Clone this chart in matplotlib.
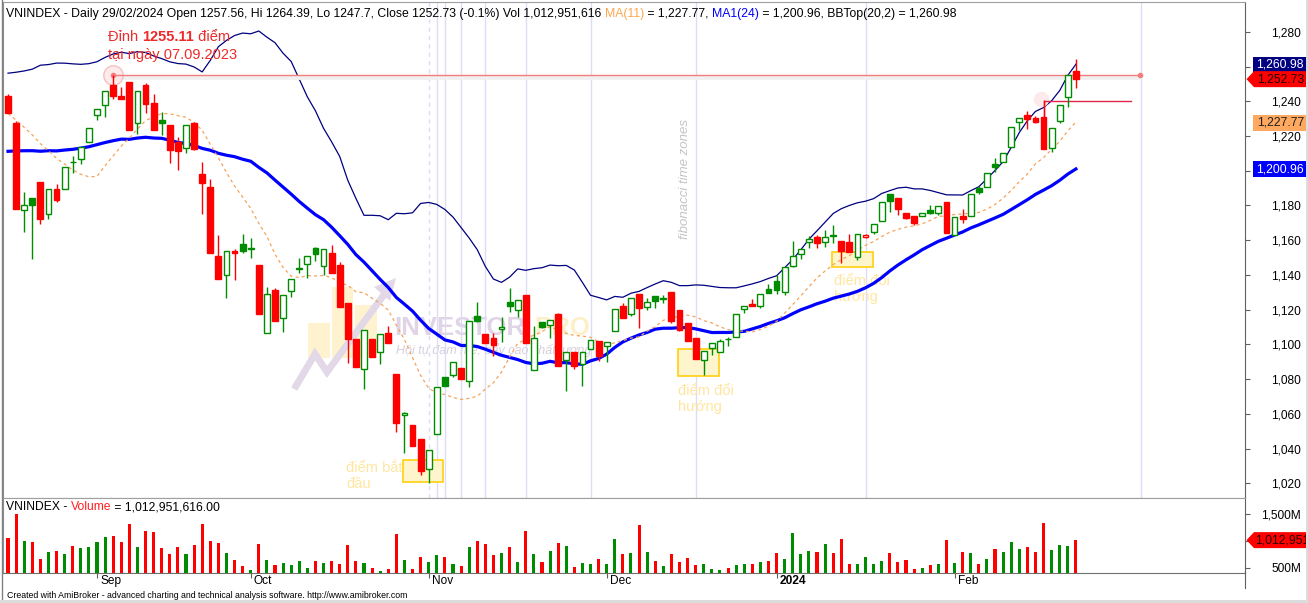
import numpy as np
import pandas as pd
import matplotlib
matplotlib.use("Agg")
import matplotlib.pyplot as plt
from matplotlib.patches import Polygon, Rectangle
from matplotlib.lines import Line2D

plt.rcParams['font.family'] = ['Liberation Sans', 'DejaVu Sans']

# closes before the first visible bar (Jul 17 - Aug 16 2023), only to warm up the indicators
warmup_close = [1172, 1178, 1180, 1180, 1182, 1186, 1190, 1195, 1197, 1205, 1207, 1216,
                1218, 1220, 1226, 1228, 1228, 1234, 1232, 1238, 1242, 1241, 1240]

# daily VNINDEX bars, 17/08/2023 .. 29/02/2024
opens = [1243.0, 1227.7, 1177.2, 1184.3, 1193.5, 1175.3, 1189.5, 1189.3, 1205.1, 1206.6,
         1216.4, 1231.9, 1237.7, 1249.5, 1243.0, 1251.1, 1227.3, 1249.2, 1239.0, 1229.2,
         1226.3, 1216.5, 1212.9, 1227.5, 1198.1, 1190.6, 1150.9, 1139.8, 1153.8, 1157.7,
         1155.2, 1145.7, 1106.4, 1131.4, 1115.1, 1130.6, 1143.5, 1146.2, 1155.3, 1145.2,
         1152.5, 1145.7, 1124.0, 1103.1, 1085.7, 1103.0, 1095.5, 1106.4, 1083.0, 1059.2,
         1053.6, 1045.6, 1028.5, 1048.3, 1081.1, 1082.2, 1086.4, 1078.8, 1116.4, 1105.9,
         1103.9, 1108.7, 1124.6, 1119.7, 1128.5, 1085.1, 1112.7, 1111.0, 1117.5, 1090.9,
         1095.7, 1088.6, 1097.2, 1102.0, 1098.9, 1107.6, 1122.1, 1117.5, 1129.2, 1121.7,
         1127.9, 1126.3, 1130.2, 1119.8, 1112.2, 1103.7, 1090.9, 1098.0, 1095.8, 1103.3,
         1104.1, 1120.2, 1123.3, 1122.3, 1131.7, 1136.5, 1130.4, 1145.3, 1152.2, 1159.2,
         1162.0, 1159.0, 1162.9, 1159.4, 1159.0, 1150.2, 1162.0, 1164.6, 1171.2, 1186.4,
         1184.3, 1175.5, 1173.8, 1173.8, 1177.4, 1175.9, 1182.0, 1162.8, 1173.9, 1174.1,
         1189.9, 1190.5, 1203.7, 1204.9, 1213.5, 1228.1, 1231.9, 1230.2, 1230.8, 1212.9,
         1228.8, 1242.3, 1257.56]
highs = [1244.2, 1228.6, 1187.8, 1184.5, 1193.5, 1189.3, 1192.4, 1202.0, 1208.5, 1213.5,
         1224.4, 1235.4, 1245.7, 1255.11, 1248.0, 1251.1, 1245.7, 1250.3, 1244.2, 1233.8,
         1226.3, 1219.3, 1226.2, 1228.2, 1205.2, 1195.3, 1163.0, 1153.6, 1155.0, 1163.6,
         1161.3, 1146.0, 1133.1, 1132.5, 1128.3, 1137.5, 1149.6, 1150.7, 1156.3, 1154.8,
         1157.3, 1147.3, 1124.0, 1103.1, 1108.1, 1103.0, 1105.9, 1110.6, 1083.0, 1060.9,
         1053.6, 1045.6, 1039.1, 1075.3, 1081.1, 1089.7, 1086.4, 1113.3, 1124.6, 1105.9,
         1106.4, 1116.0, 1132.3, 1125.4, 1128.5, 1110.6, 1113.0, 1113.9, 1118.1, 1095.5,
         1095.7, 1095.5, 1102.6, 1102.0, 1101.6, 1120.2, 1124.0, 1126.6, 1129.2, 1126.6,
         1127.9, 1128.5, 1130.2, 1119.8, 1112.2, 1103.7, 1096.1, 1100.7, 1103.0, 1104.1,
         1117.4, 1122.4, 1126.2, 1128.9, 1134.8, 1140.0, 1144.6, 1159.6, 1154.8, 1162.6,
         1163.0, 1165.9, 1168.8, 1159.4, 1163.6, 1163.4, 1163.4, 1169.2, 1182.0, 1186.4,
         1184.3, 1175.5, 1173.8, 1175.5, 1180.3, 1179.7, 1182.0, 1173.4, 1178.0, 1186.4,
         1191.2, 1198.5, 1207.2, 1210.0, 1225.0, 1230.2, 1234.4, 1231.5, 1240.7, 1224.4,
         1237.7, 1255.1, 1264.39]
lows = [1233.0, 1178.0, 1164.9, 1149.4, 1169.5, 1172.1, 1182.2, 1189.3, 1198.5, 1204.1,
        1216.4, 1229.4, 1230.8, 1241.5, 1241.1, 1223.6, 1221.3, 1233.4, 1223.6, 1220.6,
        1204.6, 1200.4, 1210.0, 1212.0, 1175.3, 1152.8, 1137.9, 1126.9, 1137.1, 1152.8,
        1149.9, 1117.7, 1106.4, 1113.7, 1107.4, 1127.5, 1141.3, 1138.4, 1148.2, 1139.8,
        1141.3, 1121.4, 1089.1, 1087.2, 1074.2, 1093.0, 1088.6, 1101.0, 1049.8, 1037.7,
        1041.7, 1024.9, 1020.2, 1048.3, 1076.3, 1081.1, 1079.9, 1075.7, 1112.8, 1101.0,
        1093.4, 1101.6, 1118.9, 1115.6, 1101.0, 1085.1, 1109.5, 1103.5, 1087.8, 1073.4,
        1086.0, 1076.3, 1097.2, 1090.6, 1090.1, 1107.6, 1115.4, 1116.4, 1109.6, 1119.8,
        1120.8, 1123.7, 1112.5, 1107.7, 1102.2, 1091.5, 1082.4, 1093.8, 1095.8, 1099.3,
        1104.1, 1118.3, 1122.1, 1120.8, 1129.8, 1129.0, 1128.5, 1144.6, 1149.2, 1155.7,
        1155.7, 1156.3, 1158.2, 1147.1, 1153.5, 1148.4, 1161.5, 1163.4, 1171.2, 1176.1,
        1174.3, 1172.4, 1168.8, 1173.8, 1175.1, 1174.5, 1164.2, 1162.8, 1170.1, 1174.1,
        1186.4, 1190.5, 1199.5, 1204.9, 1213.5, 1223.5, 1223.9, 1227.3, 1212.3, 1211.0,
        1227.3, 1236.9, 1247.7]
closes = [1233.4, 1178.2, 1180.1, 1180.5, 1172.4, 1189.3, 1183.3, 1202.0, 1204.9, 1213.5,
          1224.4, 1235.4, 1245.7, 1243.2, 1241.5, 1223.6, 1245.7, 1238.6, 1223.6, 1227.7,
          1212.0, 1211.5, 1226.2, 1212.5, 1193.1, 1152.8, 1137.9, 1153.6, 1152.5, 1154.0,
          1155.4, 1117.7, 1128.9, 1113.7, 1128.3, 1137.5, 1143.7, 1150.7, 1151.9, 1154.8,
          1141.3, 1121.4, 1103.0, 1087.2, 1108.1, 1093.0, 1105.9, 1101.0, 1055.0, 1060.5,
          1041.7, 1027.3, 1039.1, 1075.3, 1076.3, 1089.7, 1079.9, 1113.3, 1113.7, 1101.0,
          1099.9, 1110.1, 1122.3, 1125.4, 1101.0, 1103.5, 1110.2, 1113.9, 1087.8, 1095.5,
          1087.8, 1095.5, 1102.6, 1093.5, 1101.6, 1120.2, 1115.4, 1126.6, 1121.2, 1124.3,
          1125.2, 1126.4, 1113.7, 1108.3, 1102.2, 1091.5, 1096.1, 1100.7, 1102.2, 1103.1,
          1117.4, 1122.4, 1122.1, 1128.9, 1129.8, 1131.3, 1144.6, 1150.9, 1154.8, 1160.5,
          1158.6, 1161.7, 1162.7, 1154.0, 1153.5, 1163.4, 1163.0, 1169.2, 1182.0, 1182.8,
          1177.8, 1172.8, 1170.1, 1175.5, 1175.7, 1179.7, 1164.2, 1173.4, 1172.4, 1186.4,
          1188.0, 1198.5, 1202.3, 1210.0, 1225.0, 1230.2, 1230.0, 1227.9, 1212.3, 1224.4,
          1237.7, 1255.1, 1252.73]
# volume in millions of shares
volumes = [1059, 1500, 1003, 979, 662, 792, 811, 761, 910, 873,
           891, 985, 1078, 1097, 985, 1320, 891, 1189, 1171, 873,
           761, 891, 761, 928, 1320, 1003, 966, 780, 649, 537,
           463, 947, 649, 556, 593, 556, 630, 500, 630, 593,
           625, 569, 923, 625, 588, 494, 439, 476, 1128, 644,
           476, 700, 606, 737, 700, 569, 532, 886, 998, 942,
           737, 774, 886, 606, 1184, 755, 606, 811, 960, 904,
           513, 588, 569, 662, 569, 1035, 755, 774, 1295, 792,
           625, 532, 755, 606, 680, 550, 569, 476, 457, 494,
           550, 569, 569, 606, 625, 774, 662, 1146, 755, 811,
           792, 942, 774, 1035, 569, 569, 700, 569, 625, 774,
           606, 643, 476, 494, 550, 569, 1016, 588, 792, 774,
           569, 662, 848, 792, 979, 848, 886, 792, 1333, 830,
           923, 904, 1012.95]

month_ticks = [11, 30, 52, 74, 95, 117]
month_labels = ['Sep', 'Oct', 'Nov', 'Dec', '2024', 'Feb']
price_ticks = list(range(1020, 1281, 20))
hidden_price_labels = [1200, 1260]   # sit under the value tags
vol_ticks = [500, 1000, 1500]
vol_labels = ['500M', '', '1,500M']
fib_start = 52
fib_offsets = [0, 1, 2, 4, 7, 12, 20, 33, 54, 88]
peak_bar = 13          # 07.09.2023, high 1255.11
swing_bar = 128

GREEN = '#008c00'
RED = '#ff0000'
W, H = 1308, 603

fig = plt.figure(figsize=(W / 100, H / 100), dpi=100)
fig.patch.set_facecolor('white')
ax = fig.add_axes([3 / W, 1 - 497.5 / H, 1242 / W, 495.5 / H])
axv = fig.add_axes([3 / W, 1 - 572.5 / H, 1242 / W, 75 / H])

o, h, l, c = (np.array(a, dtype=float) for a in (opens, highs, lows, closes))
v = np.array(volumes, dtype=float)
idx = np.arange(len(c))

allc = pd.Series(warmup_close + closes, dtype=float)
nw = len(warmup_close)
ma11 = allc.rolling(11).mean().values[nw:]
ma24 = allc.rolling(24).mean().values[nw:]
bbtop = (allc.rolling(20).mean() + 2 * allc.rolling(20).std(ddof=0)).values[nw:]

ax.set_xlim(-0.62, 152.9)
ax.set_ylim(1011.9, 1297.15)
axv.set_xlim(-0.62, 152.9)
axv.set_ylim(410, 1807)


def px(a, x, y):
    # reference pixel -> data coordinates of axes a
    return a.transData.inverted().transform((x, H - y))


# --- watermark ---
for (x0, y0, x1, y1) in [(308, 323, 330, 358), (332, 287, 353, 358), (355, 305, 377, 358)]:
    d0 = px(ax, x0, y1)
    d1 = px(ax, x1, y0)
    ax.add_patch(Rectangle(d0, d1[0] - d0[0], d1[1] - d0[1], facecolor='#fff3cf',
                           edgecolor='none', zorder=0.5))
zz = np.array([px(ax, *p) for p in [(296, 386), (315, 354), (327, 372), (386, 292)]])
ax.plot(zz[:, 0], zz[:, 1], color='#e2d8e8', lw=5, solid_joinstyle='miter', zorder=0.6)
ah = np.array([px(ax, *p) for p in [(374, 287), (396, 278), (390, 301)]])
ax.add_patch(Polygon(ah, closed=True, facecolor='#e2d8e8', edgecolor='none', zorder=0.6))
p = px(ax, 394, 328)
ax.text(p[0], p[1], 'INVESTOR', color='#e0d4e6', fontsize=18.5, fontweight='bold',
        va='center', ha='left', zorder=0.6)
p = px(ax, 534, 328)
ax.text(p[0], p[1], 'PRO', color='#fdf0c8', fontsize=18.5, fontweight='bold',
        va='center', ha='left', zorder=0.6)
p = px(ax, 396, 350)
ax.text(p[0], p[1], 'Hội tụ đam mê, bẩy cao chất lượng', color='#d6cfdc', fontsize=9,
        style='italic', va='center', ha='left', zorder=0.6)

# --- fibonacci time zones ---
for off in fib_offsets:
    ax.axvline(fib_start + off, color='#dcdcf6', lw=1.0,
               ls=(0, (3, 3)) if off == 0 else '-', zorder=1)
p = px(ax, 685, 179)
ax.text(p[0], p[1], 'fibonacci time zones', rotation=90, color='#c4c4c4', fontsize=9.5,
        style='italic', ha='center', va='center', zorder=1)

# --- turning point boxes ---
boxes = [((403, 460, 443, 482), (346, 476), 'điểm bắt\nđầu'),
         ((678, 349, 719, 376), (678, 399), 'điểm đổi\nhướng'),
         ((832, 252, 873, 267), (834, 289), 'điểm đổi\nhướng')]
for (x0, y0, x1, y1), (tx, ty), s in boxes:
    d0 = px(ax, x0, y1)
    d1 = px(ax, x1, y0)
    ax.add_patch(Rectangle(d0, d1[0] - d0[0], d1[1] - d0[1], facecolor='#fff5cc',
                           edgecolor='#ffd21f', lw=1.3, zorder=2))
    p = px(ax, tx, ty)
    ax.text(p[0], p[1], s, color='#ffe6a0', fontsize=10.5, ha='left', va='center',
            linespacing=1.25, zorder=2)

# --- indicator lines ---
ax.plot(idx, bbtop, color='#000080', lw=0.9, zorder=3)
ax.plot(idx, ma24, color='#0000ff', lw=2.3, zorder=3)
ax.plot(idx, ma11, color='#f5a35c', lw=0.9, ls=(0, (2.5, 2.5)), zorder=3)

# --- horizontal level lines ---
end_bar = 139.9
ax.plot([peak_bar, end_bar], [h[peak_bar] - 1.2, h[peak_bar] - 1.2], color='#f0f0f0', lw=3.5,
        zorder=3)
ax.plot([peak_bar, end_bar], [h[peak_bar], h[peak_bar]], color='#f47c7c', lw=1.0, zorder=3.2)
ax.plot([peak_bar], [h[peak_bar]], 'o', ms=14, mfc='#fde6e6', mec='#f5b2b2', mew=1, alpha=0.8,
        zorder=3.1)
ax.plot([peak_bar, end_bar], [h[peak_bar]] * 2, 'o', ms=3, color='#f47c7c', zorder=3.3)
ax.plot([swing_bar - 0.35], [h[swing_bar] + 0.5], 'o', ms=10, mfc='#fde8e8', mec='#fde8e8',
        alpha=0.9, zorder=3.1)
ax.plot([swing_bar, swing_bar, 138.8], [o[swing_bar], h[swing_bar] - 0.3, h[swing_bar] - 0.3],
        color='#de2449', lw=1.0, zorder=3.2)

# --- candles ---
prev_c = np.r_[warmup_close[-1], c[:-1]]
col = np.where(c >= prev_c, GREEN, RED)
hollow = c > o
top = np.maximum(o, c)
bot = np.minimum(o, c)
body = np.maximum(top - bot, 0.25)
ax.vlines(idx, top, h, colors=col, lw=1.0, zorder=4)
ax.vlines(idx, l, bot, colors=col, lw=1.0, zorder=4)
face = np.where(hollow, 'white', col)
ax.bar(idx, body, bottom=bot, width=0.72, color=face, edgecolor=col, linewidth=1.0, zorder=5)

# --- volume ---
vcol = np.where(c > o, GREEN, RED)
axv.bar(idx, v, width=0.38, color=vcol, zorder=3)

# --- axes styling ---
for a in (ax, axv):
    a.set_facecolor('white')
    a.yaxis.tick_right()
    a.spines['left'].set_color('#909090')
    a.spines['top'].set_color('#a0a0a0')
    a.spines['right'].set_color('#606060')
    a.spines['bottom'].set_color('#707070')
ax.set_xticks([])
ax.set_yticks(price_ticks)
ax.set_yticklabels(['' if t in hidden_price_labels else f'{t:,}' for t in price_ticks])
axv.set_yticks(vol_ticks)
axv.set_yticklabels(vol_labels)
for a in (ax, axv):
    a.tick_params(axis='y', direction='out', length=3.3, width=0.8, color='#606060',
                  pad=37, labelsize=8.6, labelcolor='black')
    for t in a.get_yticklabels():
        t.set_horizontalalignment('right')
axv.set_xticks(month_ticks)
axv.set_xticklabels([])
axv.tick_params(axis='x', direction='out', length=3.3, width=0.8, color='#606060')
for t, s in zip(month_ticks, month_labels):
    axv.text(t + 0.37, -0.03, s, transform=axv.get_xaxis_transform(), ha='left', va='top',
             fontsize=8.6, fontweight='bold' if s == '2024' else 'normal')


# --- value tags on the right axis ---
def tag(a, value, s, face, tc, arrow=False, text_left=None):
    yd = a.transData.transform((0, value))[1]
    hh = 8
    if arrow:
        pts = [(1246.5, yd), (1254, yd + hh), (1307, yd + hh), (1307, yd - hh), (1254, yd - hh)]
    else:
        pts = [(1253, yd + hh), (1307, yd + hh), (1307, yd - hh), (1253, yd - hh)]
    fig.add_artist(Polygon([(x / W, y / H) for x, y in pts], closed=True,
                           transform=fig.transFigure, facecolor=face, edgecolor='none',
                           zorder=10))
    if text_left is None:
        fig.text(1304 / W, yd / H, s, ha='right', va='center', color=tc, fontsize=8.8, zorder=11)
    else:
        fig.text(text_left / W, yd / H, s, ha='left', va='center', color=tc, fontsize=8.8,
                 zorder=11)


tag(ax, 1260.98, '1,260.98', '#000080', 'white')
tag(ax, c[-1], f'{c[-1]:,.2f}', RED, '#200000', arrow=True)
tag(ax, 1227.77, '1,227.77', '#ffa860', '#202020')
tag(ax, 1200.96, '1,200.96', '#0000ff', 'white')
tag(axv, v[-1], '1,012,951', RED, '#200000', arrow=True, text_left=1255)

# --- texts ---
renderer = fig.canvas.get_renderer()


def text_width(s, size, weight):
    t1 = fig.text(0, 0, s + '|', fontsize=size, fontweight=weight)
    t2 = fig.text(0, 0, '|', fontsize=size, fontweight=weight)
    w = t1.get_window_extent(renderer).width - t2.get_window_extent(renderer).width
    t1.remove()
    t2.remove()
    return w


def pieces(x, y, parts, size):
    for part in parts:
        s, color = part[0], part[1]
        weight = part[2] if len(part) > 2 else 'normal'
        fig.text(x / W, 1 - y / H, s, color=color, fontsize=size, fontweight=weight,
                 va='baseline', ha='left', zorder=12)
        x += text_width(s, size, weight)


pieces(6, 16.5, [('VNINDEX - Daily 29/02/2024 Open 1257.56, Hi 1264.39, Lo 1247.7, '
                  'Close 1252.73 (-0.1%) Vol 1,012,951,616 ', 'black'),
                 ('MA(11)', '#ffa64d'), (' = 1,227.77, ', 'black'),
                 ('MA1(24)', '#0000ff'), (' = 1,200.96, BBTop(20,2) = 1,260.98', 'black')], 8.8)
pieces(6, 510.5, [('VNINDEX - ', 'black'), ('Volume', '#ff2020'),
                  (' = 1,012,951,616.00', 'black')], 8.7)

pieces(108, 41, [('Đỉnh ', '#ee2a2a'), ('1255.11', '#ee2a2a', 'bold'),
                 (' điểm', '#ee2a2a')], 10.5)
pieces(108, 58.5, [('tại ngày 07.09.2023', '#ee2a2a')], 10.5)

fig.text(7 / W, 1 - 597.5 / H, 'Created with AmiBroker - advanced charting and technical '
         'analysis software. http://www.amibroker.com', fontsize=6.3, va='baseline')

# frame
fig.add_artist(Line2D([2 / W, 2 / W], [0, 1], transform=fig.transFigure, color='#808080',
                      lw=1, zorder=20))
fig.add_artist(Line2D([1245 / W, 1245 / W], [1 - 588 / H, 1 - 572 / H],
                      transform=fig.transFigure, color='#606060', lw=0.8, zorder=20))
fig.add_artist(Rectangle((1305.5 / W, 0), 2.5 / W, 1, transform=fig.transFigure,
                         facecolor='#dcdcdc', edgecolor='none', zorder=20))
fig.add_artist(Rectangle((0, 0), 1, 3.5 / H, transform=fig.transFigure,
                         facecolor='#dcdcdc', edgecolor='none', zorder=20))

fig.savefig('out.png', dpi=100)
